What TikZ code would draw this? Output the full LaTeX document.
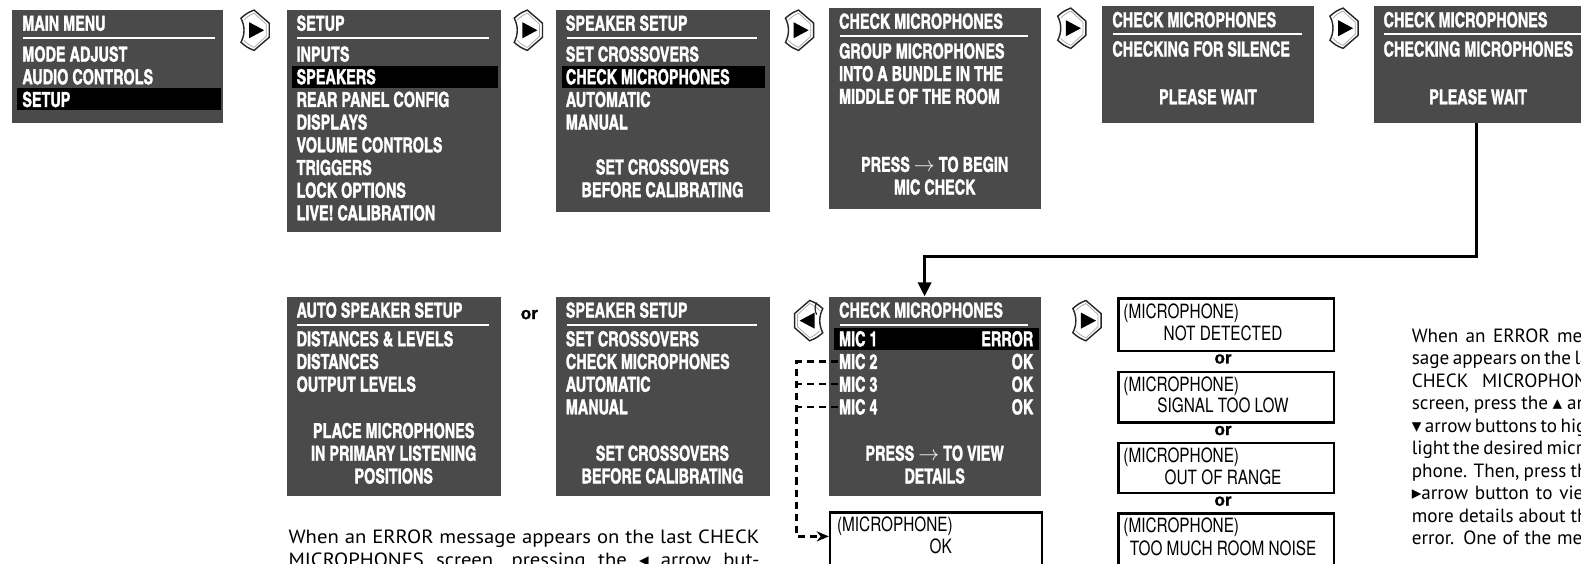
\documentclass[tikz,border=0pt]{standalone}
\usepackage{fontspec}
\setmainfont{PT Sans}[FakeStretch=1.08]
\newfontfamily\paraB{PT Sans}
\newfontfamily\cnb{texgyreheroscn-bold.otf}[FakeStretch=0.85,FakeBold=1.5]
\newfontfamily\nrw{TeX Gyre Heros}[FakeStretch=0.78]
\newfontfamily\symf{DejaVu Sans}
\newfontfamily\orfont{Liberation Sans}[FakeBold=1.2]
\usetikzlibrary{arrows.meta,calc}
\definecolor{boxgray}{RGB}{74,74,74}
\tikzset{
  gbox/.style 2 args={fill=boxgray, draw=none, inner sep=0pt, anchor=north west, minimum width=#1, minimum height=#2},
  msgbox/.style 2 args={draw=black, line width=2.4pt, fill=white, inner sep=0pt, anchor=north west, minimum width=#1, minimum height=#2},
  ttl/.style={anchor=base west, inner sep=0pt, text=white, font=\cnb\fontsize{20.5}{22}\selectfont},
  itmc/.style={ttl, anchor=base},
  itme/.style={ttl, anchor=base east},
  wrule/.style={white, line width=2pt},
  hbar/.style={fill=black},
  mtxt/.style={anchor=base west, inner sep=0pt, font=\nrw\fontsize{19.5}{22}\selectfont},
  mtxtc/.style={mtxt, anchor=base},
  ortxt/.style={anchor=base, inner sep=0pt, font=\orfont\bfseries\fontsize{17}{20}\selectfont},
  para/.style={anchor=base west, inner sep=0pt, font=\fontsize{19}{22}\selectfont},
  parb/.style={anchor=base west, inner sep=0pt, font=\paraB\fontsize{19}{22}\selectfont},
  conn/.style={line width=3pt, line join=miter, -{Triangle[width=13pt,length=14pt]}},
  dline/.style={line width=2.4pt, dash pattern=on 7pt off 5pt},
  btn/.pic={
    \draw[line width=1.4pt, draw=black!85, fill=white]
      (-14,-12) .. controls (-8,-17) .. (-1,-20) .. controls (6,-14) .. (14,-7) -- (14,7)
      .. controls (6,14) .. (-1,20) .. controls (-8,17) .. (-14,12)
      .. controls (-10,4) and (-10,-4) .. (-14,-12) -- cycle;
    \draw[line width=0.7pt, draw=black!35]
      (-11,-10) .. controls (-7,-14) .. (-1,-17) .. controls (5,-12) .. (11,-6) -- (11,6)
      .. controls (5,12) .. (-1,17) .. controls (-7,14) .. (-11,10);
    \fill[black] (-6,-8) -- (-6,8) -- (9,0) -- cycle;
  }
}
\begin{document}
\begin{tikzpicture}[x=1pt,y=-1pt]
\useasboundingbox (0,0) rectangle (1568,559);
\clip (0,0) rectangle (1568,559);
\fill[white] (0,0) rectangle (1568,559);

% ---------- Row 1 ----------
\node[gbox={209pt}{112pt}] (b1) at (12,10) {};
\fill[hbar] (17,87.5) rectangle (219,109.5);
\node[ttl] (b1t) at (22,30.4) {MAIN MENU};
\draw[wrule] (23,38) -- (213,38);
\node[ttl] (b1a) at (22,61) {MODE ADJUST};
\node[ttl] (b1b) at (22,83.5) {AUDIO CONTROLS};
\node[ttl] (b1c) at (22,106) {SETUP};

\pic at (253,30) {btn};

\node[gbox={213pt}{220pt}] (b2) at (284,10) {};
\fill[hbar] (290,65) rectangle (494,87);
\node[ttl] (b2t) at (294,30.4) {SETUP};
\draw[wrule] (295,38) -- (485,38);
\node[ttl] (b2a) at (294,61) {INPUTS};
\node[ttl] (b2b) at (294,83.5) {SPEAKERS};
\node[ttl] (b2c) at (294,106) {REAR PANEL CONFIG};
\node[ttl] (b2d) at (294,128.5) {DISPLAYS};
\node[ttl] (b2e) at (294,151) {VOLUME CONTROLS};
\node[ttl] (b2f) at (294,173.5) {TRIGGERS};
\node[ttl] (b2g) at (294,196) {LOCK OPTIONS};
\node[ttl] (b2h) at (294,218.5) {LIVE! CALIBRATION};

\pic at (524,30) {btn};

\node[gbox={212pt}{200pt}] (b3) at (551,10) {};
\fill[hbar] (557,65) rectangle (759,87);
\node[ttl] (b3t) at (561,30.4) {SPEAKER SETUP};
\draw[wrule] (562,38) -- (751,38);
\node[ttl] (b3a) at (561,61) {SET CROSSOVERS};
\node[ttl] (b3b) at (561,83.5) {CHECK MICROPHONES};
\node[ttl] (b3c) at (561,106) {AUTOMATIC};
\node[ttl] (b3d) at (561,128.5) {MANUAL};
\node[itmc] (b3e) at (657,173) {SET CROSSOVERS};
\node[itmc] (b3f) at (657,195.5) {BEFORE CALIBRATING};

\pic at (793,30) {btn};

\node[gbox={210pt}{199pt}] (b4) at (822,8) {};
\node[ttl] (b4t) at (832,28.4) {CHECK MICROPHONES};
\draw[wrule] (833,36) -- (1020,36);
\node[ttl] (b4a) at (832,57.9) {GROUP MICROPHONES};
\node[ttl] (b4b) at (832,80.4) {INTO A BUNDLE IN THE};
\node[ttl] (b4c) at (832,102.9) {MIDDLE OF THE ROOM};
\node[itmc] (b4d) at (927,170.4) {PRESS $\rightarrow$ TO BEGIN};
\node[itmc] (b4e) at (927,192.9) {MIC CHECK};

\pic at (1063,28) {btn};

\node[gbox={210pt}{116pt}] (b5) at (1093,6) {};
\node[ttl] (b5t) at (1103,26.9) {CHECK MICROPHONES};
\draw[wrule] (1104,34) -- (1291,34);
\node[ttl] (b5a) at (1103,55.9) {CHECKING FOR SILENCE};
\node[itmc] (b5b) at (1198,103.4) {PLEASE WAIT};

\pic at (1333,28) {btn};

\node[gbox={218pt}{116pt}] (b6) at (1362,6) {};
\node[ttl] (b6t) at (1372,26.9) {CHECK MICROPHONES};
\draw[wrule] (1373,34) -- (1568,34);
\node[ttl] (b6a) at (1372,55.9) {CHECKING MICROPHONES};
\node[itmc] (b6b) at (1466,103.4) {PLEASE WAIT};

% ---------- Row 2 ----------
\node[gbox={213pt}{198pt}] (b7) at (284,294) {};
\node[ttl] (b7t) at (294,314.9) {AUTO SPEAKER SETUP};
\draw[wrule] (295,322) -- (485,322);
\node[ttl] (b7a) at (294,343.4) {DISTANCES \& LEVELS};
\node[ttl] (b7b) at (294,365.9) {DISTANCES};
\node[ttl] (b7c) at (294,388.4) {OUTPUT LEVELS};
\node[itmc] (b7d) at (390.5,434.4) {PLACE MICROPHONES};
\node[itmc] (b7e) at (390.5,456.9) {IN PRIMARY LISTENING};
\node[itmc] (b7f) at (390.5,479.4) {POSITIONS};

\node[ortxt] (or0) at (525,316.5) {or};

\node[gbox={212pt}{198pt}] (b8) at (551,294) {};
\node[ttl] (b8t) at (561,314.9) {SPEAKER SETUP};
\draw[wrule] (562,322) -- (751,322);
\node[ttl] (b8a) at (561,343.4) {SET CROSSOVERS};
\node[ttl] (b8b) at (561,365.9) {CHECK MICROPHONES};
\node[ttl] (b8c) at (561,388.4) {AUTOMATIC};
\node[ttl] (b8d) at (561,410.9) {MANUAL};
\node[itmc] (b8e) at (657,456.9) {SET CROSSOVERS};
\node[itmc] (b8f) at (657,479.4) {BEFORE CALIBRATING};

\pic[xscale=-1] at (802,318) {btn};
\draw[line width=1.2pt, black!85] (810,312) arc[start angle=150, end angle=210, radius=12];

\node[gbox={210pt}{198pt}] (b10) at (822,294) {};
\fill[hbar] (827,325) rectangle (1030,347);
\node[ttl] (b10t) at (832,314.9) {CHECK MICROPHONES};
\draw[wrule] (833,322) -- (1020,322);
\node[ttl] (mic1) at (832,343.4) {MIC 1};
\node[itme] (st1) at (1025,343.4) {ERROR};
\node[ttl] (mic2) at (832,365.9) {MIC 2};
\node[itme] (st2) at (1025,365.9) {OK};
\node[ttl] (mic3) at (832,388.4) {MIC 3};
\node[itme] (st3) at (1025,388.4) {OK};
\node[ttl] (mic4) at (832,410.9) {MIC 4};
\node[itme] (st4) at (1025,410.9) {OK};
\node[itmc] (b10a) at (927,456.9) {PRESS $\rightarrow$ TO VIEW};
\node[itmc] (b10b) at (927,479.4) {DETAILS};

% connector from last top screen
\coordinate (k1) at (1464,254);
\coordinate (k2) at (917,254);
\draw[conn] (b6.south -| k1) -- (k1) -- (k2) -- (b10.north -| k2);

% OK box
\node[msgbox={210pt}{60pt}] (ok) at (822,507) {};
\node[mtxt] (ok1) at (830,527.4) {(MICROPHONE)};
\node[mtxtc] (ok2) at (933,549.4) {OK};

% dashed links
\coordinate (dc) at (790,532);
\draw[dline, -{Stealth[length=12pt,width=10pt]}] ([xshift=-1pt]mic2.west) -- (mic2.west -| dc) -- (dc) -- (dc -| ok.west);
\draw[dline] ([xshift=-1pt]mic3.west) -- (mic3.west -| dc);
\draw[dline] ([xshift=-1pt]mic4.west) -- (mic4.west -| dc);

\pic at (1078,318) {btn};

% message boxes
\node[msgbox={214pt}{52pt}] (m1) at (1108,295) {};
\node[mtxt] (m1a) at (1114,315.4) {(MICROPHONE)};
\node[mtxtc] (m1b) at (1213,337.4) {NOT DETECTED};
\node[ortxt] (or1) at (1213,360.5) {or};
\node[msgbox={214pt}{50pt}] (m2) at (1108,368) {};
\node[mtxt] (m2a) at (1114,387.9) {(MICROPHONE)};
\node[mtxtc] (m2b) at (1213,409.4) {SIGNAL TOO LOW};
\node[ortxt] (or2) at (1213,431.5) {or};
\node[msgbox={214pt}{50pt}] (m3) at (1108,438) {};
\node[mtxt] (m3a) at (1114,458.4) {(MICROPHONE)};
\node[mtxtc] (m3b) at (1213,480.4) {OUT OF RANGE};
\node[ortxt] (or3) at (1213,501.5) {or};
\node[msgbox={214pt}{60pt}] (m4) at (1108,508) {};
\node[mtxt] (m4a) at (1114,528.4) {(MICROPHONE)};
\node[mtxtc] (m4b) at (1213,550.9) {TOO MUCH ROOM NOISE};

% paragraphs
\node[para] (p1) at (286,538.6) {\makebox[467pt][s]{When an ERROR message appears on the last CHECK}};
\node[para] (p2) at (286,561.6) {\makebox[467pt][s]{MICROPHONES screen, pressing the {\symf ◂} arrow but-}};

\node[parb] (q1) at (1400,339.6) {\makebox[184pt][s]{When an ERROR mes-}};
\node[parb] (q2) at (1400,361.9) {\makebox[180pt][s]{sage appears on the last}};
\node[parb] (q3) at (1400,384.2) {\makebox[194pt][s]{CHECK MICROPHONES}};
\node[parb] (q4) at (1400,406.5) {\makebox[184pt][s]{screen, press the {\symf ▴} and}};
\node[parb] (q5) at (1400,428.8) {\makebox[184pt][s]{{\symf ▾} arrow buttons to high-}};
\node[parb] (q6) at (1400,451.1) {\makebox[184pt][s]{light the desired micro-}};
\node[parb] (q7) at (1400,473.4) {\makebox[184pt][s]{phone. Then, press the}};
\node[parb] (q8) at (1400,495.7) {\makebox[184pt][s]{{\symf ▸}arrow button to view}};
\node[parb] (q9) at (1400,518) {\makebox[184pt][s]{more details about the}};
\node[parb] (q10) at (1400,540.3) {\makebox[184pt][s]{error. One of the mes-}};
\end{tikzpicture}
\end{document}
